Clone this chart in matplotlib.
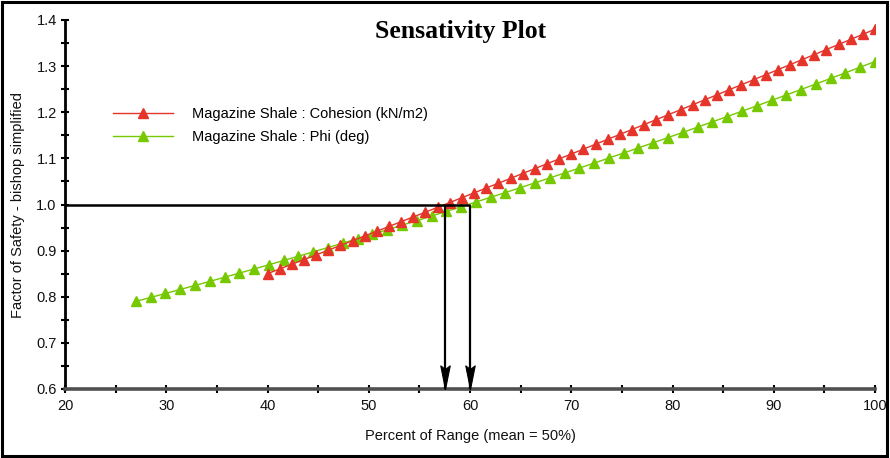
import matplotlib
matplotlib.use("Agg")
import matplotlib.pyplot as plt
from matplotlib.patches import Rectangle
from matplotlib.ticker import MultipleLocator

plt.rcParams['font.family'] = ['Liberation Sans', 'DejaVu Sans']

# ---- data ----
cohesion_x = [40.0, 41.2, 42.4, 43.6, 44.8, 46.0, 47.2, 48.4, 49.6, 50.8,
              52.0, 53.2, 54.4, 55.6, 56.8, 58.0, 59.2, 60.4, 61.6, 62.8,
              64.0, 65.2, 66.4, 67.6, 68.8, 70.0, 71.2, 72.4, 73.6, 74.8,
              76.0, 77.2, 78.4, 79.6, 80.8, 82.0, 83.2, 84.4, 85.6, 86.8,
              88.0, 89.2, 90.4, 91.6, 92.8, 94.0, 95.2, 96.4, 97.6, 98.8, 100.0]
cohesion_fs = [0.8500, 0.8602, 0.8703, 0.8805, 0.8908, 0.9010, 0.9112, 0.9215, 0.9318, 0.9421,
               0.9524, 0.9628, 0.9731, 0.9835, 0.9939, 1.0043, 1.0147, 1.0252, 1.0357, 1.0461,
               1.0566, 1.0672, 1.0777, 1.0883, 1.0988, 1.1094, 1.1200, 1.1307, 1.1413, 1.1520,
               1.1626, 1.1733, 1.1841, 1.1948, 1.2055, 1.2163, 1.2271, 1.2379, 1.2487, 1.2596,
               1.2704, 1.2813, 1.2922, 1.3031, 1.3140, 1.3250, 1.3360, 1.3469, 1.3579, 1.3690, 1.3800]

phi_x = [27.00, 28.46, 29.92, 31.38, 32.84, 34.30, 35.76, 37.22, 38.68, 40.14,
         41.60, 43.06, 44.52, 45.98, 47.44, 48.90, 50.36, 51.82, 53.28, 54.74,
         56.20, 57.66, 59.12, 60.58, 62.04, 63.50, 64.96, 66.42, 67.88, 69.34,
         70.80, 72.26, 73.72, 75.18, 76.64, 78.10, 79.56, 81.02, 82.48, 83.94,
         85.40, 86.86, 88.32, 89.78, 91.24, 92.70, 94.16, 95.62, 97.08, 98.54, 100.00]
phi_fs = [0.7900, 0.7985, 0.8071, 0.8158, 0.8245, 0.8333, 0.8423, 0.8512, 0.8603, 0.8694,
          0.8787, 0.8880, 0.8973, 0.9067, 0.9163, 0.9259, 0.9355, 0.9453, 0.9551, 0.9650,
          0.9749, 0.9850, 0.9952, 1.0054, 1.0156, 1.0260, 1.0364, 1.0470, 1.0576, 1.0682,
          1.0789, 1.0898, 1.1007, 1.1117, 1.1228, 1.1339, 1.1451, 1.1563, 1.1678, 1.1792,
          1.1907, 1.2022, 1.2139, 1.2256, 1.2375, 1.2493, 1.2613, 1.2734, 1.2855, 1.2977, 1.3100]

series_labels = ["Magazine Shale : Cohesion (kN/m2)", "Magazine Shale : Phi (deg)"]
target_fs = 1.0
crossing_x = [57.5, 60.0]

x_range = [20, 100]
y_range = [0.6, 1.4]

# ---- figure ----
fig = plt.figure(figsize=(8.9, 4.58), dpi=100)
ax = fig.add_axes([65/890, 1-389/458, 810/890, 369/458])

red = '#e5342a'
green = '#76c900'

ax.plot(cohesion_x, cohesion_fs, color=red, lw=1.0, marker='^', ms=7.5,
        mec=red, mfc=red, label=series_labels[0], zorder=4)
ax.plot(phi_x, phi_fs, color=green, lw=1.0, marker='^', ms=7.5,
        mec=green, mfc=green, label=series_labels[1], zorder=3)

# target FS lines and arrows (narrow arrow head whose tip sits on the x axis)
head = [(0.0, 0.0), (-0.2, 1.0), (0.0, 0.85), (0.2, 1.0), (0.0, 0.0)]
ax.plot([x_range[0], max(crossing_x)], [target_fs, target_fs], color='black', lw=1.8,
        zorder=5, solid_capstyle='butt')
for cx in crossing_x:
    ax.plot([cx, cx], [target_fs, y_range[0]], color='black', lw=1.6, zorder=5,
            solid_capstyle='butt', clip_on=False)
    ax.plot([cx], [y_range[0]], marker=head, ms=34, color='black', mec='black',
            mew=0.8, zorder=6, clip_on=False)

ax.set_xlim(*x_range)
ax.set_ylim(*y_range)
ax.xaxis.set_major_locator(MultipleLocator(10))
ax.xaxis.set_minor_locator(MultipleLocator(5))
ax.yaxis.set_major_locator(MultipleLocator(0.1))
ax.yaxis.set_minor_locator(MultipleLocator(0.05))
ax.yaxis.set_major_formatter(matplotlib.ticker.FormatStrFormatter('%.1f'))

for s in ['top', 'right']:
    ax.spines[s].set_visible(False)
ax.spines['left'].set_linewidth(2.0)
ax.spines['left'].set_color('black')
ax.spines['bottom'].set_linewidth(2.6)
ax.spines['bottom'].set_color('#505050')

ax.tick_params(which='both', direction='inout', length=6, width=1.5, color='black',
               labelsize=10.5, labelcolor='#111111')
ax.tick_params(axis='x', which='both', pad=4)
ax.tick_params(axis='y', which='both', pad=3)

ax.set_xlabel("Percent of Range (mean = 50%)", fontsize=10.5, labelpad=12, color='#111111')
ax.set_ylabel("Factor of Safety - bishop simplified", fontsize=10.5, labelpad=8, color='#111111')

fig.text(0.518, 0.932, "Sensativity Plot", family='Liberation Serif', fontweight='bold',
         fontsize=18.5, ha='center', va='center')

leg = ax.legend(loc='upper left', bbox_to_anchor=(0.043, 0.799), frameon=False,
                fontsize=10.5, handlelength=4.1, handletextpad=1.3, labelspacing=0.6,
                markerscale=1.0, numpoints=1)

fig.add_artist(Rectangle((0.002, 0.004), 0.995, 0.992, transform=fig.transFigure,
                         fill=False, edgecolor='black', lw=2.2))

fig.savefig("out.png", dpi=100)
